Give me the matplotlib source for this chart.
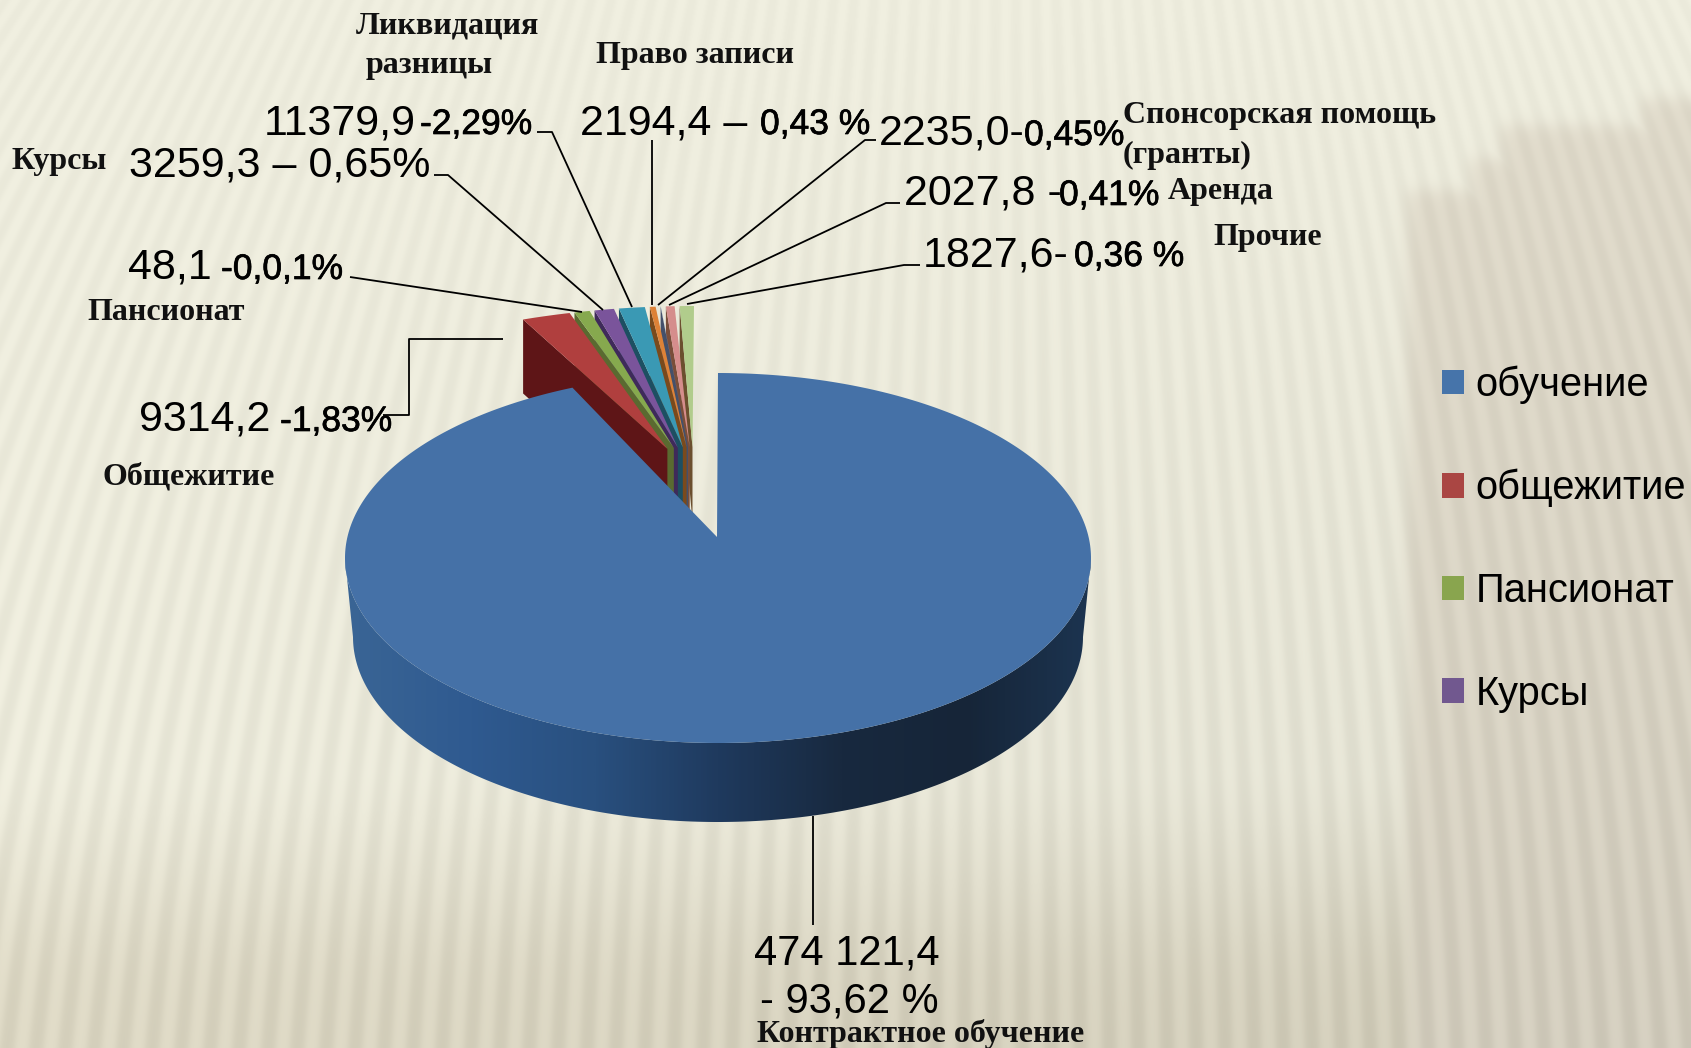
import numpy as np
import matplotlib
matplotlib.use("Agg")
import matplotlib.pyplot as plt
from matplotlib.patches import Polygon, Patch
from matplotlib.colors import LinearSegmentedColormap
import matplotlib.patheffects as pe

# ---- data -------------------------------------------------------------
main_share = 93.62
# drawn shares of the exploded slices (clockwise after the main slice)
fan_names = ["общежитие", "Пансионат", "Курсы", "Ликвидация разницы", "Право записи",
             "Спонсорская помощь", "Аренда", "Прочие"]
fan_shares = [1.97, 0.75, 0.90, 1.13, 0.39, 0.19, 0.50, 0.61]
fan_colors = ["#B03F3E", "#86A94E", "#7A549B", "#3A99B4", "#DD8237", "#8FA8D4", "#D58D8C", "#B1CC8C"]
wall_colors = ["#5E1517", "#5A6A30", "#3F2A5A", "#1D4F62", "#7A4A1C", "#44506A", "#7A4E3A", "#6B4F2E"]
legend_names = ["обучение", "общежитие", "Пансионат", "Курсы"]
legend_colors = ["#4674AA", "#AA4643", "#89A54E", "#71588F"]

W, H = 1691, 1048
fig = plt.figure(figsize=(W / 100, H / 100), dpi=100)
ax = fig.add_axes([0, 0, 1, 1])
ax.set_xlim(0, W)
ax.set_ylim(H, 0)
ax.axis("off")

# ---- background --------------------------------------------------------
yy, xx = np.mgrid[0:H, 0:W].astype(float)
t = 1 - yy / H
f = 1 - 0.19 * t ** 2 - 0.113 * t
u = (xx - 1000) / f
stripe = np.sin(2 * np.pi * u / 29.0)
stripe = np.tanh(stripe * 1.0)


def sig(v, s=5.0):
    return 1 / (1 + np.exp(-np.clip(v / s, -30, 30)))


stairs = np.zeros_like(xx)
for sx, sy in [(1407, 190), (1470, 158), (1500, 125), (1640, 98)]:
    stairs = np.maximum(stairs, sig(xx - sx) * sig(yy - sy))
low1 = sig(yy - 830, 40) * 0.55 + sig(yy - 930, 30) * 0.45
top_c = np.array([238, 237, 222.0])
bot_c = np.array([219, 214, 194.0])
stair_c = np.array([222, 216, 200.0])
mix = np.maximum(low1, 0.15 * (yy / H))[..., None]
img = top_c * (1 - mix) + bot_c * mix
img = img * (1 - stairs[..., None] * 0.9) + stair_c * stairs[..., None] * 0.9
img = img * (1 - 0.06 * (yy / H)[..., None] * (xx / W)[..., None])
amp = (3.5 + 5.0 * (yy / H))[..., None]
img = img + amp * stripe[..., None]
ax.imshow(np.clip(img, 0, 255).astype(np.uint8), extent=(0, W, H, 0), aspect="auto",
          interpolation="bilinear", zorder=0)
ax.set_xlim(0, W)
ax.set_ylim(H, 0)

# ---- pie geometry ------------------------------------------------------
CX, CY, RX, RY, DEPTH = 718, 558, 373, 185, 79
APEX = (717, 537)
BOTTOM_RX = RX - 8
FX, FY, FRX, FRY, FDEPTH, EXPLODE = 694, 478, 440, 172, 74, 0.18


def arc(cx, cy, rx, ry, a0, a1, n=200):
    th = np.radians(np.linspace(a0, a1, n))
    return np.column_stack([cx + rx * np.sin(th), cy - ry * np.cos(th)])


# exploded slices: side walls right to left, then the top faces; each slice keeps its own tip
edges = 360 * (main_share + np.cumsum([0] + fan_shares)) / 100
edges = edges + (360 - edges[-1])
pad = 0.33
n_fan = len(fan_shares)
centre = np.array([FX, FY], dtype=float)
tips = [centre + EXPLODE * (arc(FX, FY, FRX, FRY, m, m, 1)[0] - centre)
        for m in (edges[:-1] + edges[1:]) / 2]
for i in reversed(range(n_fan)):
    outer = arc(FX, FY, FRX, FRY, edges[i] + pad, edges[i] + pad, 1)[0]
    wall = [outer, tips[i], tips[i] + [0, FDEPTH], outer + [0, FDEPTH]]
    ax.add_patch(Polygon(wall, closed=True, fc=wall_colors[i], ec="none", zorder=2))
for i in range(n_fan):
    a0, a1 = edges[i] + pad, edges[i + 1] - (pad if i < n_fan - 1 else 0)
    pts = np.vstack([arc(FX, FY, FRX, FRY, a0, a1, 20), [tips[i]]])
    ax.add_patch(Polygon(pts, closed=True, fc=fan_colors[i], ec="none", zorder=3))

# main slice: gradient side wall plus top face
upper = arc(CX, CY, RX, RY, 90, 270)
lower = arc(CX, CY + DEPTH, BOTTOM_RX, RY, 90, 270)
side = np.vstack([upper, lower[::-1]])
side_poly = Polygon(side, closed=True, fc="none", ec="none", zorder=4)
ax.add_patch(side_poly)
cmap = LinearSegmentedColormap.from_list(
    "side", ["#3A6595", "#2F5A90", "#29507F", "#1F3A5E", "#18293F", "#162538", "#1C3450"])
grad = ax.imshow(np.linspace(0, 1, 400)[None, :], cmap=cmap, vmin=0, vmax=1,
                 extent=(CX - RX, CX + RX, CY + RY + DEPTH, CY), aspect="auto", zorder=4)
grad.set_clip_path(side_poly)
ax.set_xlim(0, W)
ax.set_ylim(H, 0)
main_pts = np.vstack([arc(CX, CY, RX, RY, 0, 360 * main_share / 100, 400), [APEX]])
ax.add_patch(Polygon(main_pts, closed=True, fc="#4571A7", ec="none", zorder=5))

# ---- leaders -----------------------------------------------------------
leaders = [
    [(350, 277), (582, 312)],
    [(434, 175), (448, 175), (603, 310)],
    [(537, 132), (552, 132), (632, 307)],
    [(652, 140), (652, 305)],
    [(876, 140), (865, 140), (658, 305)],
    [(900, 203), (886, 203), (669, 305)],
    [(920, 265), (904, 265), (687, 304)],
    [(503, 339), (409, 339), (409, 415), (383, 415)],
    [(813, 816), (813, 925)],
]
for pts in leaders:
    xs, ys = zip(*pts)
    ax.plot(xs, ys, color="black", lw=1.3, zorder=6, solid_capstyle="butt")

# ---- value labels ------------------------------------------------------
SANS = "Liberation Sans"
big = [
    ("11379,9", 264, 134), ("3259,3 – 0,65%", 129, 176), ("48,1", 128, 279),
    ("9314,2", 139, 431), ("2194,4 –", 580, 134), ("2235,0-", 879, 145),
    ("2027,8 -", 904, 205), ("1827,6-", 923, 266),
]
bottom = [("474 121,4", 754, 965), ("- 93,62 %", 760, 1013)]
small = [
    ("-2,29%", 420, 134), ("-0,0,1%", 221, 279), ("-1,83%", 280, 431),
    ("0,43 %", 760, 134), ("0,45%", 1024, 145), ("0,41%", 1059, 205), ("0,36 %", 1074, 266),
]
for s, x, y in big:
    ax.text(x, y, s, family=SANS, fontsize=31, color="black", ha="left", va="baseline", zorder=7)
for s, x, y in bottom:
    ax.text(x, y, s, family=SANS, fontsize=30, color="black", ha="left", va="baseline", zorder=7)
for s, x, y in small:
    ax.text(x, y, s, family=SANS, fontsize=25.5, color="black", ha="left", va="baseline", zorder=7,
            path_effects=[pe.withStroke(linewidth=0.5, foreground="black")])

# ---- category names ----------------------------------------------------
SERIF = "Liberation Serif"
names = [
    ("Ликвидация", 448, 26, "center"), ("разницы", 429, 65, "center"),
    ("Право записи", 695, 56, "center"),
    ("Спонсорская помощь", 1123, 116, "left"), ("(гранты)", 1123, 155, "left"),
    ("Аренда", 1168, 192, "left"), ("Прочие", 1213, 237, "left"),
    ("Курсы", 12, 162, "left"), ("Пансионат", 87, 312, "left"),
    ("Общежитие", 102, 477, "left"), ("Контрактное обучение", 757, 1034, "left"),
]
for s, x, y, ha in names:
    ax.text(x, y, s, family=SERIF, fontweight="bold", fontsize=23, color="#111111",
            ha=ha, va="center", zorder=7)

# ---- legend ------------------------------------------------------------
handles = [Patch(fc=c, ec="none") for c in legend_colors]
leg = ax.legend(handles, legend_names, loc="upper left",
                bbox_to_anchor=(1434 / W, 1 - 358 / H), frameon=False,
                prop={"family": SANS, "size": 28.7}, handlelength=0.56, handleheight=0.56,
                handletextpad=0.28, labelspacing=1.62, borderpad=0.2, borderaxespad=0)
leg.set_zorder(7)

fig.savefig("out.png", dpi=100)
